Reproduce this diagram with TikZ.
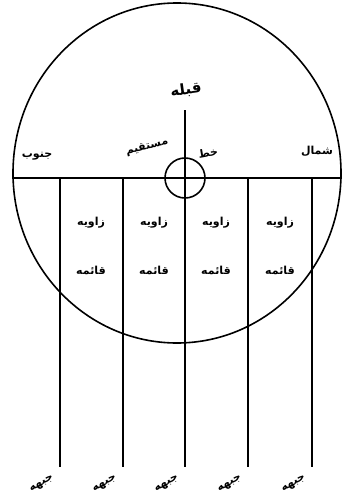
\documentclass[tikz,border=0pt]{standalone}
\usepackage{fontspec}
\newfontfamily\arabicfont[Script=Arabic]{DejaVu Sans}
\TeXXeTstate=1
\usetikzlibrary{positioning}
\newcommand{\fa}[1]{{\arabicfont\beginR #1\endR}}

\begin{document}
\begin{tikzpicture}[
    x=1pt, y=-1pt,
    heavy/.style={draw=black, line width=1.6pt},
    lbl/.style={font=\arabicfont\bfseries\fontsize{11}{13}\selectfont, inner sep=1pt},
    foot/.style={lbl, rotate=30},
]
\useasboundingbox (0,0) rectangle (342,503);

% Big circle and the horizontal diameter
\draw[heavy] (177,173) ellipse [x radius=164, y radius=170];
\coordinate (west) at (12,178);
\coordinate (east) at (342,178);
\draw[heavy] (west) -- (east);

% Qibla line and small circle at the centre
\coordinate (ctr) at (185,178);
\coordinate (qtop) at (185,110);
\draw[heavy] (ctr) circle [radius=20];
\node[lbl, font=\arabicfont\bfseries\fontsize{15}{17}\selectfont, rotate=8] (qibla) at (186,90) {\fa{قبله}};
\draw[heavy] (qtop) -- (ctr);

% Vertical lines down to the jabha labels
\foreach \x [count=\i] in {60,123,185,248,312} {
    \coordinate (t\i) at (\x,178);
    \coordinate (b\i) at (\x,467);
    \draw[heavy] (t\i) -- (b\i);
    \node[foot] (j\i) at (\x-18,484) {\fa{جبهه}};
}

% Right-angle labels between the lines
\foreach \x [count=\i] in {91,154,216,280} {
    \node[lbl] (z\i) at (\x,223) {\fa{زاویه}};
    \node[lbl] (q\i) at (\x,270) {\fa{قائمه}};
}

% Direction labels above the diameter
\node[lbl] (south) at (37,156) {\fa{جنوب}};
\node[lbl] (north) at (317,151) {\fa{شمال}};
\node[lbl, rotate=15] (mustaqim) at (147,147) {\fa{مستقیم}};
\node[lbl, rotate=10] (khat) at (208,153) {\fa{خط}};
\end{tikzpicture}
\end{document}
